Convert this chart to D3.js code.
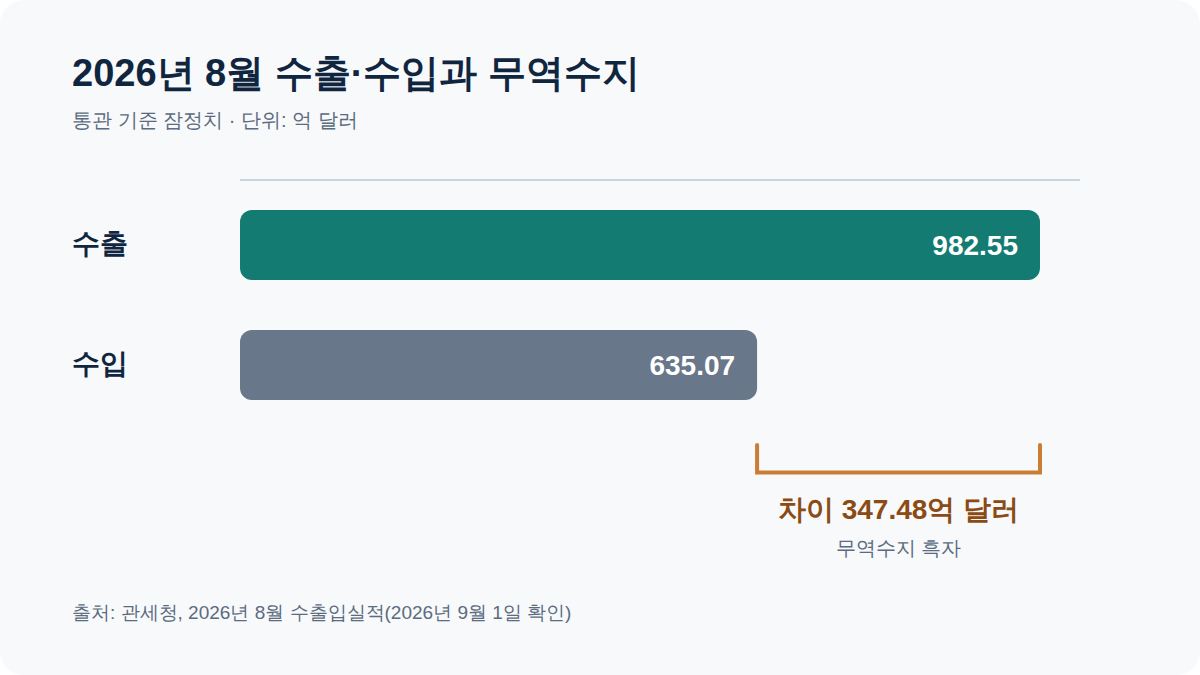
<!DOCTYPE html>
<html>
<head>
<meta charset="utf-8">
<script src="https://cdn.jsdelivr.net/npm/d3@7"></script>
<style>
  html, body { margin: 0; padding: 0; background: #ffffff; }
  svg { display: block; font-family: sans-serif; }
</style>
</head>
<body>
<div class="chart"></div>
<script>
// data
var categories = ["수출", "수입"];
var values = [982.55, 635.07];
var barColors = ["#137b72", "#687789"];
var title = "2026년 8월 수출·수입과 무역수지";
var subtitle = "통관 기준 잠정치 · 단위: 억 달러";
var source = "출처: 관세청, 2026년 8월 수출입실적(2026년 9월 1일 확인)";
var gapLabel = "무역수지 흑자";

var w = 1200, h = 675;

var svg = d3.select('.chart').append('svg')
  .attr('width', w)
  .attr('height', h);

// card
svg.append('rect')
  .attr('x', 0).attr('y', 0)
  .attr('width', w).attr('height', h)
  .attr('rx', 24)
  .style('fill', '#f8f9fb');

svg.append('text')
  .attr('x', 72).attr('y', 86)
  .style('font-size', '38px')
  .style('font-weight', 'bold')
  .style('fill', '#10263f')
  .text(title);

svg.append('text')
  .attr('x', 72).attr('y', 127)
  .style('font-size', '20px')
  .style('fill', '#5b6b80')
  .text(subtitle);

var x = d3.scaleLinear()
  .domain([0, d3.max(values) * 1.05])
  .range([240, 1080]);

var y = d3.scaleBand()
  .domain(categories)
  .range([185, 425])
  .paddingInner(5 / 12)
  .paddingOuter(0.2083);

// top rule
svg.append('line')
  .attr('x1', x(0)).attr('x2', x.range()[1])
  .attr('y1', 180).attr('y2', 180)
  .style('stroke', '#cbd5e1')
  .style('stroke-width', 2);

var rows = svg.selectAll('.row').data(categories)
  .enter().append('g')
  .attr('class', 'row');

rows.append('rect')
  .attr('x', x(0))
  .attr('y', function(d){ return y(d); })
  .attr('width', function(d, i){ return x(values[i]) - x(0); })
  .attr('height', y.bandwidth())
  .attr('rx', 12)
  .style('fill', function(d, i){ return barColors[i]; });

rows.append('text')
  .attr('x', 72)
  .attr('y', function(d){ return y(d) + y.bandwidth() / 2 + 8; })
  .style('font-size', '28px')
  .style('font-weight', 'bold')
  .style('fill', '#10263f')
  .text(function(d){ return d; });

rows.append('text')
  .attr('x', function(d, i){ return x(values[i]) - 22; })
  .attr('y', function(d){ return y(d) + y.bandwidth() / 2 + 10; })
  .attr('text-anchor', 'end')
  .style('font-size', '28px')
  .style('font-weight', 'bold')
  .style('fill', '#ffffff')
  .text(function(d, i){ return values[i].toFixed(2); });

// difference bracket
var x1 = x(values[1]), x2 = x(values[0]);
var diff = values[0] - values[1];

svg.append('path')
  .attr('d', 'M' + x1 + ',445V472.5H' + x2 + 'V445')
  .style('fill', 'none')
  .style('stroke', '#c97d35')
  .style('stroke-width', 4)
  .style('stroke-linecap', 'round')
  .style('stroke-linejoin', 'miter');

svg.append('text')
  .attr('x', (x1 + x2) / 2).attr('y', 519)
  .attr('text-anchor', 'middle')
  .style('font-size', '28px')
  .style('font-weight', 'bold')
  .style('fill', '#8a4b14')
  .text('차이 ' + diff.toFixed(2) + '억 달러');

svg.append('text')
  .attr('x', (x1 + x2) / 2).attr('y', 555)
  .attr('text-anchor', 'middle')
  .style('font-size', '20px')
  .style('fill', '#5b6b80')
  .text(gapLabel);

svg.append('text')
  .attr('x', 72).attr('y', 619)
  .style('font-size', '19px')
  .style('fill', '#5b6b80')
  .text(source);
</script>
</body>
</html>
